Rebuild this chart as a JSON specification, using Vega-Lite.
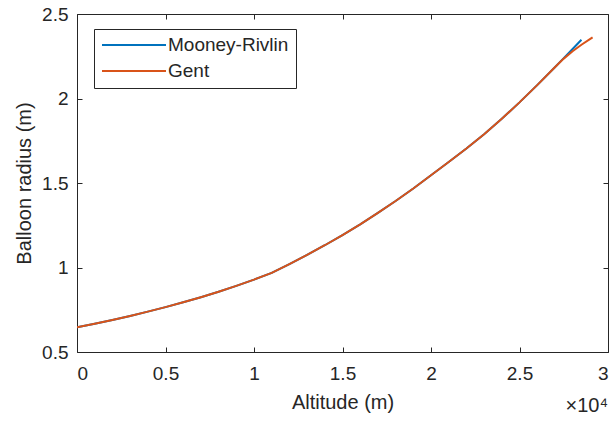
{
  "$schema": "https://vega.github.io/schema/vega-lite/v6.json",
  "autosize": {"type": "none"},
  "width": 531,
  "height": 338,
  "padding": {"left": 77, "top": 14, "right": 7, "bottom": 71},
  "background": "white",
  "title": {
    "text": "×10⁴",
    "orient": "bottom",
    "anchor": "end",
    "frame": "group",
    "offset": -16,
    "fontSize": 20,
    "fontWeight": "normal",
    "color": "#262626"
  },
  "data": {
    "values": [
      {"altitude": 0, "radius": 0.646, "model": "Mooney-Rivlin"},
      {"altitude": 1000, "radius": 0.6673, "model": "Mooney-Rivlin"},
      {"altitude": 2000, "radius": 0.6897, "model": "Mooney-Rivlin"},
      {"altitude": 3000, "radius": 0.7135, "model": "Mooney-Rivlin"},
      {"altitude": 4000, "radius": 0.7388, "model": "Mooney-Rivlin"},
      {"altitude": 5000, "radius": 0.7655, "model": "Mooney-Rivlin"},
      {"altitude": 6000, "radius": 0.794, "model": "Mooney-Rivlin"},
      {"altitude": 7000, "radius": 0.8244, "model": "Mooney-Rivlin"},
      {"altitude": 8000, "radius": 0.8567, "model": "Mooney-Rivlin"},
      {"altitude": 9000, "radius": 0.8914, "model": "Mooney-Rivlin"},
      {"altitude": 10000, "radius": 0.9284, "model": "Mooney-Rivlin"},
      {"altitude": 11000, "radius": 0.9682, "model": "Mooney-Rivlin"},
      {"altitude": 12000, "radius": 1.0205, "model": "Mooney-Rivlin"},
      {"altitude": 13000, "radius": 1.0743, "model": "Mooney-Rivlin"},
      {"altitude": 14000, "radius": 1.1317, "model": "Mooney-Rivlin"},
      {"altitude": 15000, "radius": 1.1922, "model": "Mooney-Rivlin"},
      {"altitude": 16000, "radius": 1.2557, "model": "Mooney-Rivlin"},
      {"altitude": 17000, "radius": 1.3228, "model": "Mooney-Rivlin"},
      {"altitude": 18000, "radius": 1.3933, "model": "Mooney-Rivlin"},
      {"altitude": 19000, "radius": 1.4678, "model": "Mooney-Rivlin"},
      {"altitude": 20000, "radius": 1.5461, "model": "Mooney-Rivlin"},
      {"altitude": 21000, "radius": 1.624, "model": "Mooney-Rivlin"},
      {"altitude": 22000, "radius": 1.704, "model": "Mooney-Rivlin"},
      {"altitude": 23000, "radius": 1.789, "model": "Mooney-Rivlin"},
      {"altitude": 24000, "radius": 1.88, "model": "Mooney-Rivlin"},
      {"altitude": 25000, "radius": 1.977, "model": "Mooney-Rivlin"},
      {"altitude": 26000, "radius": 2.079, "model": "Mooney-Rivlin"},
      {"altitude": 27000, "radius": 2.185, "model": "Mooney-Rivlin"},
      {"altitude": 27500, "radius": 2.239, "model": "Mooney-Rivlin"},
      {"altitude": 28000, "radius": 2.293, "model": "Mooney-Rivlin"},
      {"altitude": 28500, "radius": 2.348, "model": "Mooney-Rivlin"},
      {"altitude": 0, "radius": 0.646, "model": "Gent"},
      {"altitude": 1000, "radius": 0.6673, "model": "Gent"},
      {"altitude": 2000, "radius": 0.6897, "model": "Gent"},
      {"altitude": 3000, "radius": 0.7135, "model": "Gent"},
      {"altitude": 4000, "radius": 0.7388, "model": "Gent"},
      {"altitude": 5000, "radius": 0.7655, "model": "Gent"},
      {"altitude": 6000, "radius": 0.794, "model": "Gent"},
      {"altitude": 7000, "radius": 0.8244, "model": "Gent"},
      {"altitude": 8000, "radius": 0.8567, "model": "Gent"},
      {"altitude": 9000, "radius": 0.8914, "model": "Gent"},
      {"altitude": 10000, "radius": 0.9284, "model": "Gent"},
      {"altitude": 11000, "radius": 0.9682, "model": "Gent"},
      {"altitude": 12000, "radius": 1.0205, "model": "Gent"},
      {"altitude": 13000, "radius": 1.0743, "model": "Gent"},
      {"altitude": 14000, "radius": 1.1317, "model": "Gent"},
      {"altitude": 15000, "radius": 1.1922, "model": "Gent"},
      {"altitude": 16000, "radius": 1.2557, "model": "Gent"},
      {"altitude": 17000, "radius": 1.3228, "model": "Gent"},
      {"altitude": 18000, "radius": 1.3933, "model": "Gent"},
      {"altitude": 19000, "radius": 1.4678, "model": "Gent"},
      {"altitude": 20000, "radius": 1.5461, "model": "Gent"},
      {"altitude": 21000, "radius": 1.624, "model": "Gent"},
      {"altitude": 22000, "radius": 1.704, "model": "Gent"},
      {"altitude": 23000, "radius": 1.789, "model": "Gent"},
      {"altitude": 24000, "radius": 1.88, "model": "Gent"},
      {"altitude": 25000, "radius": 1.977, "model": "Gent"},
      {"altitude": 26000, "radius": 2.079, "model": "Gent"},
      {"altitude": 27000, "radius": 2.185, "model": "Gent"},
      {"altitude": 27500, "radius": 2.236, "model": "Gent"},
      {"altitude": 28000, "radius": 2.28, "model": "Gent"},
      {"altitude": 28500, "radius": 2.318, "model": "Gent"},
      {"altitude": 29000, "radius": 2.353, "model": "Gent"},
      {"altitude": 29130, "radius": 2.362, "model": "Gent"}
    ]
  },
  "layer": [
    {
      "mark": {"type": "line", "strokeWidth": 2, "clip": true},
      "encoding": {
        "x": {
          "field": "altitude",
          "type": "quantitative",
          "scale": {"domain": [0, 30000], "nice": false, "zero": false},
          "axis": {
            "orient": "bottom",
            "title": "Altitude (m)",
            "values": [0, 5000, 10000, 15000, 20000, 25000, 30000],
            "labelExpr": "format(datum.value / 10000, '~g')",
            "labelPadding": 17,
            "titlePadding": 9
          }
        },
        "y": {
          "field": "radius",
          "type": "quantitative",
          "scale": {"domain": [0.5, 2.5], "nice": false, "zero": false},
          "axis": {
            "orient": "left",
            "title": "Balloon radius (m)",
            "values": [0.5, 1, 1.5, 2, 2.5],
            "format": "~g",
            "labelPadding": 14,
            "titlePadding": 7
          }
        },
        "color": {
          "field": "model",
          "type": "nominal",
          "sort": ["Mooney-Rivlin", "Gent"],
          "scale": {"domain": ["Mooney-Rivlin", "Gent"], "range": ["#0072BD", "#D95319"]},
          "legend": {
            "title": null,
            "orient": "none",
            "legendX": 17,
            "legendY": 15,
            "symbolType": "stroke",
            "symbolSize": 4096,
            "symbolStrokeWidth": 2,
            "clipHeight": 18,
            "labelFontSize": 19,
            "labelColor": "#262626",
            "labelOffset": 1,
            "labelLimit": 300,
            "rowPadding": 7,
            "padding": 7,
            "strokeColor": "#262626",
            "fillColor": "white",
            "cornerRadius": 0
          }
        }
      }
    },
    {
      "mark": {"type": "line", "strokeOpacity": 0},
      "encoding": {
        "x": {
          "field": "altitude",
          "type": "quantitative",
          "axis": {"orient": "top", "title": null, "labels": false, "values": [0, 5000, 10000, 15000, 20000, 25000, 30000]}
        },
        "y": {
          "field": "radius",
          "type": "quantitative",
          "axis": {"orient": "right", "title": null, "labels": false, "values": [0.5, 1, 1.5, 2, 2.5]}
        },
        "detail": {"field": "model"}
      }
    }
  ],
  "resolve": {"axis": {"x": "independent", "y": "independent"}},
  "config": {
    "font": "Liberation Sans",
    "view": {"stroke": null},
    "axis": {
      "grid": false,
      "domainColor": "#262626",
      "domainWidth": 1,
      "tickColor": "#262626",
      "tickSize": -5,
      "tickWidth": 1,
      "labelColor": "#262626",
      "labelFontSize": 19,
      "titleColor": "#262626",
      "titleFontSize": 20,
      "titleFontWeight": "normal"
    }
  }
}
